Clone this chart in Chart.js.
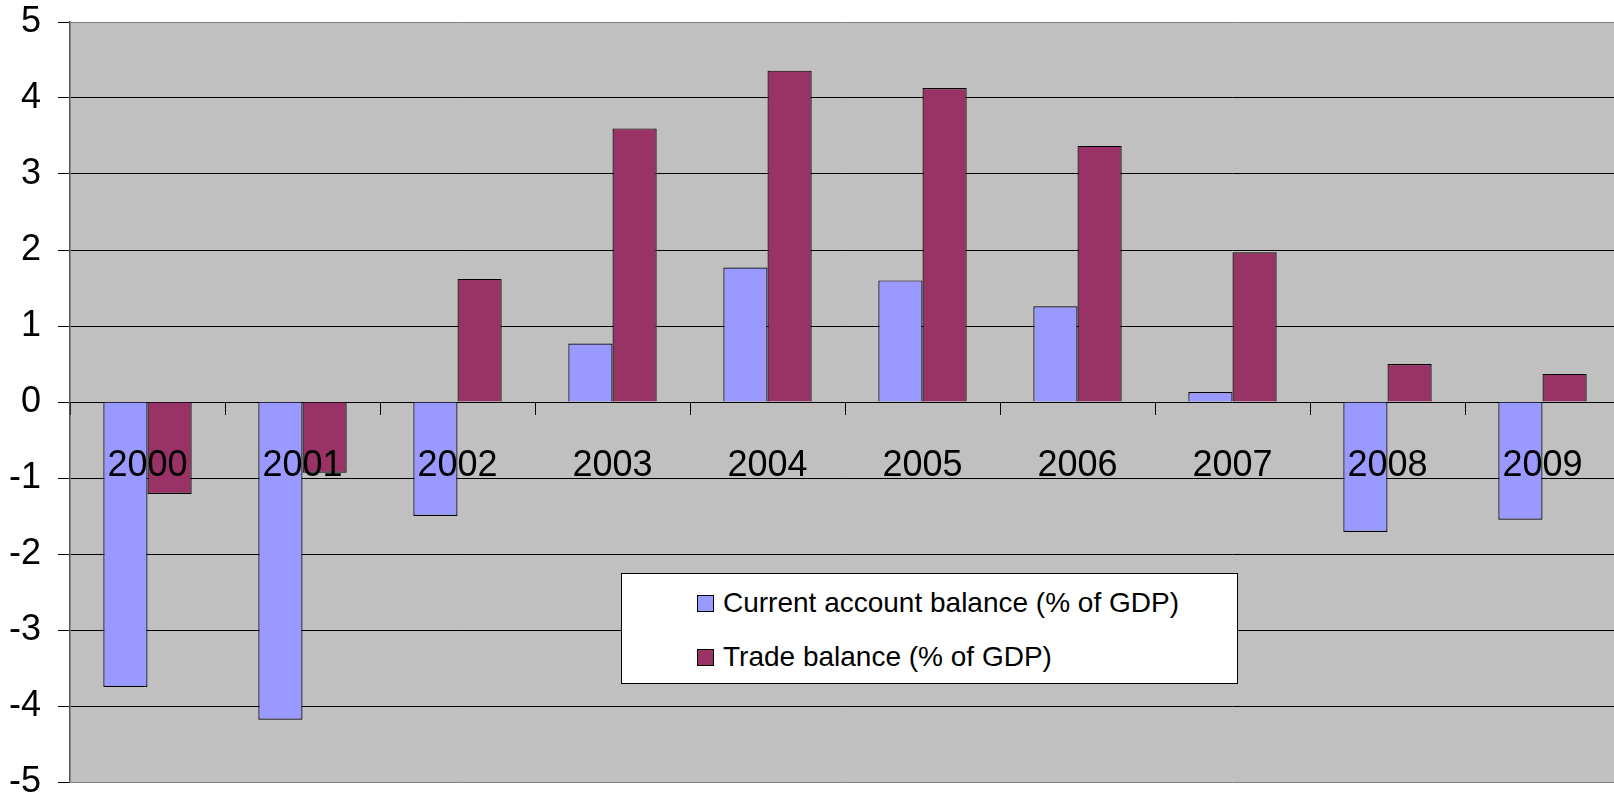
<!DOCTYPE html>
<html>
<head>
<meta charset="utf-8">
<script src="https://cdn.jsdelivr.net/npm/chart.js@4.4.1/dist/chart.umd.min.js"></script>
<style>
html,body{margin:0;padding:0;background:#fff;overflow:hidden;width:1614px;height:798px;}
#wrap{position:absolute;left:0;top:0;width:1640px;height:798px;}
#legend{position:absolute;left:621px;top:573px;width:615px;height:107px;padding-top:2px;border:1.5px solid #000;background:#fff;
  font-family:"Liberation Sans",Arial,sans-serif;font-size:28px;color:#000;}
.row{display:flex;align-items:center;height:54px;padding-left:75px;line-height:1;white-space:nowrap;}
.sw{width:15px;height:15px;border:1.2px solid #000;margin-right:9px;flex:none;}
</style>
</head>
<body>
<div id="wrap"><canvas id="c" width="1640" height="798"></canvas></div>
<div id="legend"></div>
<script>
const years = ['2000','2001','2002','2003','2004','2005','2006','2007','2008','2009'];
const currentAccount = [-3.75, -4.18, -1.50, 0.77, 1.77, 1.60, 1.26, 0.13, -1.71, -1.55];
const tradeBalance = [-1.21, -0.93, 1.62, 3.60, 4.36, 4.13, 3.37, 1.97, 0.50, 0.37];
const seriesNames = ['Current account balance (% of GDP)', 'Trade balance (% of GDP)'];
const yMin = -5, yMax = 5, yStep = 1;

const FONT = '"Liberation Sans", Arial, sans-serif';

const plotBg = {
  id: 'plotBg',
  beforeDraw(chart) {
    const {ctx, chartArea: {left, top, right, bottom}} = chart;
    ctx.save();
    ctx.fillStyle = '#c0c0c0';
    ctx.fillRect(left, top, right - left, bottom - top);
    ctx.restore();
  }
};

const chart = new Chart(document.getElementById('c'), {
  type: 'bar',
  data: {
    labels: years,
    datasets: [
      { label: seriesNames[0], data: currentAccount, backgroundColor: '#9999ff', borderColor: '#000', borderWidth: 1.2 },
      { label: seriesNames[1], data: tradeBalance, backgroundColor: '#993366', borderColor: '#000', borderWidth: 1.2 }
    ]
  },
  options: {
    responsive: false,
    animation: false,
    devicePixelRatio: 1,
    layout: { padding: { top: 22, bottom: 16, left: 0, right: 20 } },
    datasets: { bar: { barPercentage: 1, categoryPercentage: 0.57 } },
    plugins: { legend: { display: false }, tooltip: { enabled: false } },
    scales: {
      x: {
        type: 'category',
        position: { y: 0 },
        offset: true,
        grid: { drawOnChartArea: false, offset: true, tickLength: 13, color: '#000', lineWidth: 1 },
        border: { display: false },
        ticks: { z: 1, color: '#000', font: { family: FONT, size: 36 }, padding: 29, maxRotation: 0, autoSkip: false }
      },
      y: {
        min: yMin, max: yMax,
        grid: {
          color: c => (c.tick && (c.tick.value === yMax || c.tick.value === yMin)) ? '#808080' : '#000',
          lineWidth: 1, tickLength: 12, tickColor: '#000'
        },
        border: { color: '#555', width: 1.5 },
        ticks: { stepSize: yStep, color: '#000', font: { family: FONT, size: 36 }, padding: 17 },
        afterFit: s => { s.width = 70; s.paddingTop = 0; s.paddingBottom = 0; }
      }
    }
  },
  plugins: [plotBg]
});

const legend = document.getElementById('legend');
chart.data.datasets.forEach(ds => {
  const row = document.createElement('div');
  row.className = 'row';
  const sw = document.createElement('span');
  sw.className = 'sw';
  sw.style.background = ds.backgroundColor;
  const t = document.createElement('span');
  t.textContent = ds.label;
  row.appendChild(sw);
  row.appendChild(t);
  legend.appendChild(row);
});
</script>
</body>
</html>
